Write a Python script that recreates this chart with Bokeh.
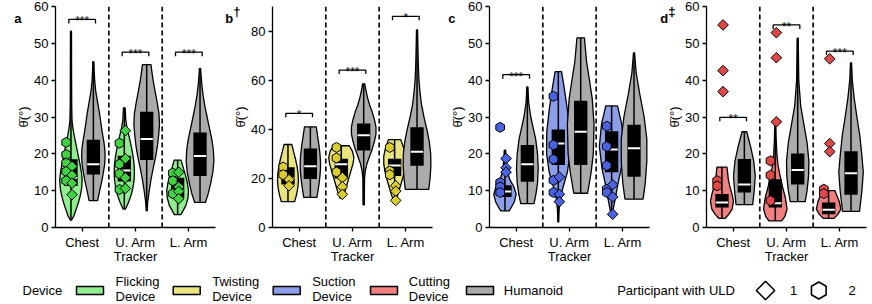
import numpy as np
from bokeh.plotting import figure
from bokeh.models import Span, FixedTicker, Range1d, LinearAxis
from bokeh.layouts import row, column
from bokeh.embed import file_html
from bokeh.resources import INLINE
from bokeh.core.properties import value

FONT = "Liberation Sans"

# ---------------- data ----------------
CATEGORIES = ["Chest", "U. Arm\nTracker", "L. Arm"]
DEVICES = ["Flicking\nDevice", "Twisting\nDevice", "Suction\nDevice", "Cutting\nDevice", "Humanoid"]

# violin profiles: (theta, relative half width); order per panel:
# chest dev, chest hum, u.arm dev, u.arm hum, l.arm dev, l.arm hum
a_chest_dev = [(2.0, 0.05), (3, 0.25), (5, 0.5), (7, 0.72), (9, 0.9), (11, 1.02), (13, 1.05), (15, 0.98), (17, 0.86),
               (19, 0.72), (21, 0.58), (23, 0.44), (25, 0.3), (27, 0.18), (29, 0.1), (33, 0.07), (40, 0.06), (53.3, 0.05)]
a_chest_hum = [(7.3, 0.4), (9, 0.52), (11, 0.67), (13, 0.82), (15, 0.94), (17, 1.05), (19, 1.1), (21, 1.08), (23, 1.0),
               (25, 0.88), (28, 0.72), (31, 0.58), (34, 0.4), (37, 0.22), (40, 0.12), (43, 0.07), (45, 0.05)]
a_uarm_dev = [(5.0, 0.12), (7, 0.42), (9, 0.66), (11, 0.82), (13, 0.92), (15, 0.95), (17, 0.92), (19, 0.84), (21, 0.72),
              (23, 0.58), (25, 0.42), (27, 0.26), (29, 0.14), (32.5, 0.08)]
a_uarm_hum = [(4.5, 0.04), (7, 0.1), (10, 0.24), (13, 0.4), (16, 0.6), (19, 0.82), (22, 1.0), (25, 1.12), (28, 1.2),
              (31, 1.15), (34, 0.98), (37, 0.78), (40, 0.6), (42, 0.5), (44.2, 0.4)]
a_larm_dev = [(3.5, 0.3), (4.5, 0.5), (6, 0.78), (8, 0.97), (10, 1.02), (12, 0.92), (14, 0.76), (16, 0.55), (18.3, 0.32)]
a_larm_hum = [(6.8, 0.5), (9, 0.75), (12, 1.0), (15, 1.2), (18, 1.3), (21, 1.25), (24, 1.1), (27, 0.88), (30, 0.66),
              (33, 0.45), (36, 0.28), (39, 0.16), (43.2, 0.05)]

b_chest_dev = [(10.5, 0.62), (13, 0.78), (16, 0.92), (19, 0.98), (22, 0.95), (25, 0.85), (28, 0.7), (31, 0.52), (33.8, 0.36)]
b_chest_hum = [(12.3, 0.62), (15, 0.72), (18, 0.82), (21, 0.9), (24, 0.95), (27, 0.95), (30, 0.9), (33, 0.82), (36, 0.72),
               (39, 0.62), (41, 0.55)]
b_uarm_dev = [(12, 0.12), (14, 0.3), (17, 0.5), (20, 0.7), (23, 0.9), (26, 1.1), (28.5, 1.18), (31, 1.05), (33.3, 0.75)]
b_uarm_hum = [(9.2, 0.06), (15, 0.07), (20, 0.08), (23, 0.15), (26, 0.3), (29, 0.55), (32, 0.8), (35, 1.0), (38, 1.15),
              (41, 1.15), (44, 1.0), (47, 0.8), (50, 0.55), (53, 0.35), (56, 0.2), (58.5, 0.1)]
b_larm_dev = [(11.5, 0.15), (14, 0.35), (17, 0.55), (20, 0.75), (23, 0.92), (26, 1.02), (29, 1.02), (32, 0.88), (35.8, 0.58)]
b_larm_hum = [(15.5, 1.1), (20, 1.22), (25, 1.3), (30, 1.28), (35, 1.15), (40, 0.92), (45, 0.65), (50, 0.42), (55, 0.28),
              (60, 0.18), (65, 0.13), (70, 0.1), (80.5, 0.05)]

c_chest_dev = [(4.5, 0.4), (5.5, 0.6), (7, 0.88), (9, 1.05), (11, 0.85), (13, 0.45), (15, 0.25), (17, 0.15), (21, 0.06)]
c_chest_hum = [(6.5, 0.62), (9, 0.8), (12, 0.95), (16, 1.02), (20, 0.95), (24, 0.78), (27, 0.55), (30, 0.32), (34, 0.12),
               (38.2, 0.05)]
c_uarm_dev = [(1.5, 0.04), (5, 0.08), (8, 0.2), (11, 0.45), (15, 0.85), (20, 1.1), (26, 1.08), (32, 0.85), (38, 0.55),
              (42.3, 0.3)]
c_uarm_hum = [(9.3, 0.65), (15, 0.98), (20, 1.18), (28, 1.25), (35, 1.08), (40, 0.82), (45, 0.55), (51.5, 0.35)]
c_larm_dev = [(3.5, 0.04), (5, 0.15), (8, 0.35), (12, 0.6), (16, 0.9), (22, 1.15), (28, 0.95), (33, 0.55)]
c_larm_hum = [(7.7, 0.85), (12, 1.05), (18, 1.2), (24, 1.2), (30, 0.95), (36, 0.55), (42, 0.2), (47.4, 0.05)]

d_chest_dev = [(2.5, 0.3), (3.5, 0.62), (5, 0.95), (7, 1.08), (9, 0.95), (11, 0.75), (13, 0.6), (16.4, 0.47)]
d_chest_hum = [(6.2, 0.78), (10, 0.92), (14, 1.02), (18, 0.88), (22, 0.58), (26, 0.22)]
d_uarm_dev = [(1.8, 0.6), (3, 0.9), (5, 1.1), (8, 0.95), (11, 0.68), (14, 0.45), (17, 0.25), (20, 0.15), (24, 0.08),
              (27.8, 0.05)]
d_uarm_hum = [(7, 0.7), (10, 0.88), (14, 1.02), (18, 1.05), (23, 0.88), (28, 0.58), (33, 0.28), (40, 0.1), (51.4, 0.05)]
d_larm_dev = [(2.5, 0.5), (3.5, 0.85), (5, 1.15), (7, 1.0), (8.5, 0.8), (10, 0.6)]
d_larm_hum = [(4.4, 0.8), (10, 1.02), (15, 1.15), (20, 1.0), (25, 0.82), (30, 0.55), (35, 0.3), (40, 0.12), (44.7, 0.05)]

# box statistics (same order as profiles)
a_q1 = [11.3, 14.4, 12.5, 18.3, 8.0, 14.0]
a_med = [13.5, 17.2, 15.5, 24.0, 10.0, 19.4]
a_q3 = [18.5, 23.8, 19.5, 31.4, 13.5, 25.8]
b_q1 = [17.5, 19.8, 20.0, 31.4, 21.0, 25.1]
b_med = [20.0, 24.9, 25.8, 37.6, 25.2, 30.8]
b_q3 = [24.5, 32.2, 28.0, 42.4, 28.0, 40.8]
c_q1 = [8.3, 12.4, 17.0, 17.0, 15.0, 13.8]
c_med = [9.8, 17.2, 22.8, 26.0, 21.2, 21.5]
c_q3 = [11.5, 22.4, 26.6, 34.4, 26.1, 27.9]
d_q1 = [5.4, 9.5, 5.4, 11.7, 3.6, 8.9]
d_med = [6.8, 11.7, 6.6, 15.6, 4.8, 14.7]
d_q3 = [9.1, 18.6, 13.1, 20.1, 6.8, 20.7]

# participants with ULD: participant 1 (diamond), participant 2 (hexagon), per category
a_dia = [[16.6, 14.2, 12.0, 8.9], [26.3, 18.7, 13.5, 10.6], [15.0, 11.0, 9.8, 7.8]]
a_hex = [[23.1, 19.8, 17.5, 15.2, 12.7], [22.9, 17.2, 14.6, 10.3], [14.8, 12.7, 9.2]]
b_dia = [[19.5, 17.0], [20.3, 16.6, 13.5], [17.0, 14.8, 11.0]]
b_hex = [[24.6, 21.5], [32.6, 28.3, 22.6], [32.6, 23.0, 21.5]]
c_dia = [[18.7, 16.2, 15.0], [13.7, 9.0, 7.0], [11.6, 8.3, 3.6]]
c_hex = [[27.2, 12.2, 11.0, 9.5], [35.6, 22.4, 18.5, 12.8, 9.5], [27.5, 22.0, 16.8, 10.4, 9.5]]
d_dia = [[55.0, 42.6, 36.9], [52.9, 46.1, 28.7], [45.8, 22.8, 20.6]]
d_hex = [[12.7, 11.3], [18.1, 14.2, 7.3], [10.4, 9.2]]

# significance brackets: (category index, height, stars)
a_sig = [(0, 56.5, "***"), (1, 47.6, "***"), (2, 47.6, "***")]
b_sig = [(0, 46.5, "*"), (1, 64.1, "***"), (2, 86.0, "*")]
c_sig = [(0, 41.5, "***")]
d_sig = [(0, 29.9, "**"), (1, 55.0, "**"), (2, 47.9, "***")]

# ---------------- style ----------------
VIOLIN_COLORS = ["#90ee90", "#e9e47e", "#8c9ee8", "#f08080", "#ababab"]
MARKER_COLORS = ["#3fd13f", "#d9cc2e", "#4a62e0", "#de4848"]
GRAY = VIOLIN_COLORS[4]
DEV_OFF = 0.21
HALF_W = 0.2
BOX_HW = 0.125
BR_HW = 0.25
DIA_OFF = -0.19
HEX_OFF = -0.3
FIG_H = 268
TOP_B = 6
BOT_B = 41
FRAME_H = FIG_H - TOP_B - BOT_B
FRAME_W = 160
LEFT_B = 55
NBSP = "\u00a0"


def build_panel(ymax, yticks, profiles, q1, med, q3, dias, hexes, sigs, idx, right_b, tag, sup, tag_so):
    width = LEFT_B + FRAME_W + right_b
    p = figure(width=width, height=FIG_H, x_range=Range1d(0, 3), y_range=Range1d(0, ymax),
               output_backend="svg", toolbar_location=None,
               min_border_left=LEFT_B, min_border_right=right_b,
               min_border_top=TOP_B, min_border_bottom=BOT_B)
    p.outline_line_color = None
    p.xgrid.visible = False
    p.ygrid.visible = False

    for loc in (1, 2):
        p.add_layout(Span(location=loc, dimension="height", line_color="black",
                          line_dash="5 3", line_width=1.6))

    xs, ys, fills, centers = [], [], [], []
    for i, prof in enumerate(profiles):
        cat = i // 2
        c = cat + 0.5 + (-DEV_OFF if i % 2 == 0 else DEV_OFF)
        centers.append(c)
        py = [pt[0] for pt in prof]
        pw = [pt[1] * HALF_W for pt in prof]
        xs.append([c + w for w in pw] + [c - w for w in reversed(pw)])
        ys.append(py + list(reversed(py)))
        fills.append(VIOLIN_COLORS[idx] if i % 2 == 0 else GRAY)
    p.patches(xs=xs, ys=ys, fill_color=fills, line_color="black", line_width=1.3)
    p.segment(x0=centers, y0=[pr[0][0] for pr in profiles], x1=centers, y1=[pr[-1][0] for pr in profiles],
              line_color="black", line_width=1.5)
    p.quad(left=[c - BOX_HW for c in centers], right=[c + BOX_HW for c in centers],
           bottom=q1, top=q3, fill_color="black", line_color=None)
    p.segment(x0=[c - BOX_HW + 0.01 for c in centers], y0=med, x1=[c + BOX_HW - 0.01 for c in centers], y1=med,
              line_color="white", line_width=2)

    hx, hy, dx, dy = [], [], [], []
    for k in range(3):
        for v in hexes[k]:
            hx.append(k + 0.5 + HEX_OFF)
            hy.append(v)
        for v in dias[k]:
            dx.append(k + 0.5 + DIA_OFF)
            dy.append(v)
    p.scatter(hx, hy, marker="hex", angle=np.pi / 2, size=10, fill_color=MARKER_COLORS[idx],
              line_color="black", line_width=1)
    p.scatter(dx, dy, marker="square", angle=np.pi / 4, size=7.5, fill_color=MARKER_COLORS[idx],
              line_color="black", line_width=1)

    tick = 4.0 * ymax / FRAME_H
    bx, by, sx, sy, st = [], [], [], [], []
    for k, h, s in sigs:
        c = k + 0.5
        bx.append([c - BR_HW, c - BR_HW, c + BR_HW, c + BR_HW])
        by.append([h - tick, h, h, h - tick])
        sx.append(c)
        sy.append(h)
        st.append(s)
    p.multi_line(bx, by, line_color="black", line_width=1.3)
    p.text(sx, sy, text=st, text_font=value(FONT), text_font_size="12px", text_align="center",
           text_baseline="alphabetic", text_color="black", y_offset=2)

    # axes
    p.xaxis.ticker = FixedTicker(ticks=[0.5, 1.5, 2.5])
    p.xaxis.major_label_overrides = {0.5: CATEGORIES[0], 1.5: CATEGORIES[1], 2.5: CATEGORIES[2]}
    p.yaxis.ticker = FixedTicker(ticks=yticks)
    p.yaxis.axis_label = "\u03b8\u0304(\u00b0)"
    p.yaxis.axis_label_text_font_style = "normal"
    p.yaxis.axis_label_text_font = FONT
    p.yaxis.axis_label_text_font_size = "13px"
    p.yaxis.axis_label_text_color = "black"
    p.yaxis.axis_label_standoff = 0
    for ax in (p.xaxis, p.yaxis):
        ax.axis_line_color = "black"
        ax.axis_line_width = 1.3
        ax.major_tick_line_color = "black"
        ax.major_tick_line_width = 1.3
        ax.major_tick_out = 4
        ax.major_tick_in = 0
        ax.minor_tick_line_color = None
        ax.major_label_text_font = FONT
        ax.major_label_text_font_size = "13px"
        ax.major_label_text_color = "black"
        ax.major_label_standoff = 3
    p.xaxis.major_label_text_line_height = 0.95

    # panel tag (with raised dagger) drawn as labels of an extra, invisible left axis
    tv = round(ymax * (1 - 12.0 / FRAME_H), 3)
    ticks = [tv]
    overrides = {tv: tag + (NBSP * 2 if sup else "")}
    if sup:
        sv = round(ymax * (1 - 5.0 / FRAME_H), 3)
        ticks.append(sv)
        overrides[sv] = sup
    tag_axis = LinearAxis(ticker=FixedTicker(ticks=ticks), major_label_overrides=overrides,
                          axis_line_color=None, major_tick_line_color=None, minor_tick_line_color=None,
                          major_label_standoff=tag_so, major_label_text_font=FONT,
                          major_label_text_font_style="bold", major_label_text_font_size="13px",
                          major_label_text_color="black")
    p.add_layout(tag_axis, "left")
    return p


pa = build_panel(60, [0, 10, 20, 30, 40, 50, 60],
                 [a_chest_dev, a_chest_hum, a_uarm_dev, a_uarm_hum, a_larm_dev, a_larm_hum],
                 a_q1, a_med, a_q3, a_dia, a_hex, a_sig, 0, 2, "a", "", -14)
pb = build_panel(90, [0, 20, 40, 60, 80],
                 [b_chest_dev, b_chest_hum, b_uarm_dev, b_uarm_hum, b_larm_dev, b_larm_hum],
                 b_q1, b_med, b_q3, b_dia, b_hex, b_sig, 1, 2, "b", "\u2020", -16)
pc = build_panel(60, [0, 10, 20, 30, 40, 50, 60],
                 [c_chest_dev, c_chest_hum, c_uarm_dev, c_uarm_hum, c_larm_dev, c_larm_hum],
                 c_q1, c_med, c_q3, c_dia, c_hex, c_sig, 2, 2, "c", "", -14)
pd_ = build_panel(60, [0, 10, 20, 30, 40, 50, 60],
                  [d_chest_dev, d_chest_hum, d_uarm_dev, d_uarm_hum, d_larm_dev, d_larm_hum],
                  d_q1, d_med, d_q3, d_dia, d_hex, d_sig, 3, 6, "d", "\u2021", -17)

# ---------------- legend strip ----------------
LW, LH = 872, 36
lg = figure(width=LW, height=LH, x_range=Range1d(0, LW), y_range=Range1d(0, LH),
            output_backend="svg", toolbar_location=None,
            min_border_left=0, min_border_right=0, min_border_top=0, min_border_bottom=0)
lg.axis.visible = False
lg.grid.visible = False
lg.outline_line_color = None
patch_left = [76, 172.7, 272.7, 370, 466]
lg.quad(left=patch_left, right=[v + 27 for v in patch_left], bottom=[10] * 5, top=[18] * 5,
        fill_color=VIOLIN_COLORS, line_color="black", line_width=1.5)
lbl_x = [115, 211.7, 311.7, 408.3, 503.3]
lg.text(lbl_x[:4], [16] * 4, text=DEVICES[:4], text_font=value(FONT), text_font_size="13px",
        text_align="left", text_baseline="middle", text_line_height=1.0, text_color="black")
lg.text([lbl_x[4], 22, 616.7], [14] * 3,
        text=[DEVICES[4], "Device", "Participant with ULD"],
        text_font=value(FONT), text_font_size="13px",
        text_align="left", text_baseline="middle", text_color="black")
lg.text([793, 851.7], [14] * 2, text=["1", "2"],
        text_font=value(FONT), text_font_size="13px",
        text_align="center", text_baseline="middle", text_color="black")
lg.scatter([765], [14], marker="square", angle=np.pi / 4, size=13, fill_color="white",
           line_color="black", line_width=1.6)
lg.scatter([818.3], [14], marker="hex", angle=np.pi / 2, size=17, fill_color="white",
           line_color="black", line_width=1.6)

layout = column(row(pa, pb, pc, pd_), lg)
open("out.html", "w").write(file_html(layout, INLINE))
